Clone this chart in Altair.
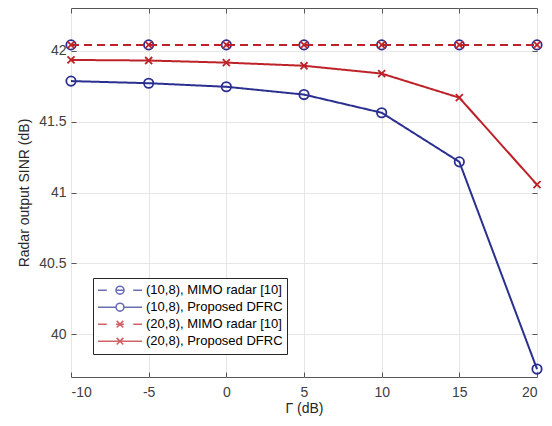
import altair as alt
import pandas as pd

# ---- data ----
gamma = [-10, -5, 0, 5, 10, 15, 20]
mimo_10_8 = [42.04, 42.04, 42.04, 42.04, 42.04, 42.04, 42.04]
dfrc_10_8 = [41.785, 41.770, 41.745, 41.690, 41.562, 41.216, 39.756]
mimo_20_8 = [42.04, 42.04, 42.04, 42.04, 42.04, 42.04, 42.04]
dfrc_20_8 = [41.934, 41.930, 41.915, 41.893, 41.838, 41.668, 41.055]

series_names = [
    "(10,8), MIMO radar [10]",
    "(10,8), Proposed DFRC",
    "(20,8), MIMO radar [10]",
    "(20,8), Proposed DFRC",
]
series_values = [mimo_10_8, dfrc_10_8, mimo_20_8, dfrc_20_8]
x_ticks = [-10, -5, 0, 5, 10, 15, 20]
y_ticks = [40, 40.5, 41, 41.5, 42]

BLUE = "#2B3090"
RED = "#BD2228"
colors = [BLUE, BLUE, RED, RED]
dashes = [[8, 5], [1, 0], [8, 5], [1, 0]]

circle_pt = "M-1,0A1,1 0 1,0 1,0A1,1 0 1,0 -1,0"
cross_pt = "M-0.75,-0.75L0.75,0.75M-0.75,0.75L0.75,-0.75"
point_shapes = [circle_pt, circle_pt, cross_pt, cross_pt]

lc = "M-0.18,0A0.18,0.18 0 1,0 0.18,0A0.18,0.18 0 1,0 -0.18,0"
lx = "M-0.15,-0.15L0.15,0.15M-0.15,0.15L0.15,-0.15"
legend_shapes = [
    "M-1,0H-0.6M-0.18,0H0.18M0.6,0H1" + lc,
    "M-1,0H-0.18M0.18,0H1" + lc,
    "M-1,0H-0.6M-0.18,0H0.18M0.6,0H1" + lx,
    "M-1,0H1" + lx,
]

rows = []
for name, vals in zip(series_names, series_values):
    for g, v in zip(gamma, vals):
        rows.append({"gamma": g, "sinr": v, "series": name})
df = pd.DataFrame(rows)

FONT = "Liberation Sans"
INWARD = {"expr": "-5"}

x_scale = alt.Scale(domain=[-10, 20], nice=False, zero=False)
y_scale = alt.Scale(domain=[39.7, 42.3], nice=False, zero=False)

x_main = alt.X("gamma:Q", scale=x_scale,
               axis=alt.Axis(values=x_ticks, labelExpr="datum.value + ''", title="Γ (dB)",
                             labelPadding=13, titlePadding=2, ticks=True, tickSize=INWARD))
y_main = alt.Y("sinr:Q", scale=y_scale,
               axis=alt.Axis(values=y_ticks, labelExpr="datum.value + ''",
                             title="Radar output SINR (dB)", labelPadding=10, titlePadding=7,
                             ticks=True, tickSize=INWARD))
x_top = alt.X("gamma:Q", scale=x_scale,
              axis=alt.Axis(orient="top", values=x_ticks, labels=False, title=None, grid=False,
                            ticks=True, tickSize=INWARD))
y_right = alt.Y("sinr:Q", scale=y_scale,
                axis=alt.Axis(orient="right", values=y_ticks, labels=False, title=None, grid=False,
                              ticks=True, tickSize=INWARD))
x_none = alt.X("gamma:Q", scale=x_scale, axis=None)
y_none = alt.Y("sinr:Q", scale=y_scale, axis=None)

color_enc = alt.Color("series:N", scale=alt.Scale(domain=series_names, range=colors), legend=None)
dash_enc = alt.StrokeDash("series:N", scale=alt.Scale(domain=series_names, range=dashes), legend=None)
shape_enc = alt.Shape("series:N", scale=alt.Scale(domain=series_names, range=point_shapes), legend=None)

# axes layers (no visible marks)
layers = [
    alt.Chart().mark_point().encode(x=x_main, y=y_main).transform_filter("datum.gamma > 1000"),
    alt.Chart().mark_point().encode(x=x_top, y=y_right).transform_filter("datum.gamma > 1000"),
]
for name in series_names:
    line = alt.Chart().mark_line(strokeWidth=2).encode(
        x=x_none, y=y_none, color=color_enc, strokeDash=dash_enc
    ).transform_filter(alt.datum.series == name)
    pts = alt.Chart().mark_point(size=88, strokeWidth=1.8, filled=False, opacity=1).encode(
        x=x_none, y=y_none, color=color_enc, shape=shape_enc
    ).transform_filter(alt.datum.series == name)
    layers += [line, pts]

legend_stroke = "indexof(datum.label, '(10,8)') == 0 ? '%s' : '%s'" % (BLUE, RED)
legend_layer = alt.Chart().mark_point(filled=False, strokeWidth=1.6).encode(
    x=x_none, y=y_none,
    shape=alt.Shape("series:N", scale=alt.Scale(domain=series_names, range=legend_shapes),
                    legend=alt.Legend(title=None, orient="none", legendX=22, legendY=270,
                                      padding=4, strokeColor="#262626", fillColor="white",
                                      symbolSize=1936, symbolStrokeWidth=1.6, symbolOffset=0,
                                      symbolStrokeColor={"expr": legend_stroke},
                                      labelFontSize=13, labelFont=FONT, labelColor="#000000",
                                      labelOffset=3, clipHeight=16.4, rowPadding=0,
                                      labelLimit=300, cornerRadius=0)),
).transform_filter("datum.gamma > 1000")
layers.append(legend_layer)

chart = alt.layer(*layers, data=df).resolve_scale(
    shape="independent"
).resolve_axis(
    x="independent", y="independent"
).properties(
    width=466, height=369,
    autosize=alt.AutoSizeParams(type="none"),
    padding={"left": 63, "top": 0, "right": 7, "bottom": 41},
    background="white",
).configure_view(
    stroke="#555555", strokeWidth=1
).configure_axis(
    grid=True, gridColor="#e6e6e6", gridWidth=1, domain=False, ticks=False,
    tickColor="#555555", tickWidth=1,
    labelFont=FONT, labelFontSize=14, labelColor="#404040",
    titleFont=FONT, titleFontSize=14, titleFontWeight="normal", titleColor="#262626",
)

chart.save("out.html", embed_options={"renderer": "svg", "actions": False})
